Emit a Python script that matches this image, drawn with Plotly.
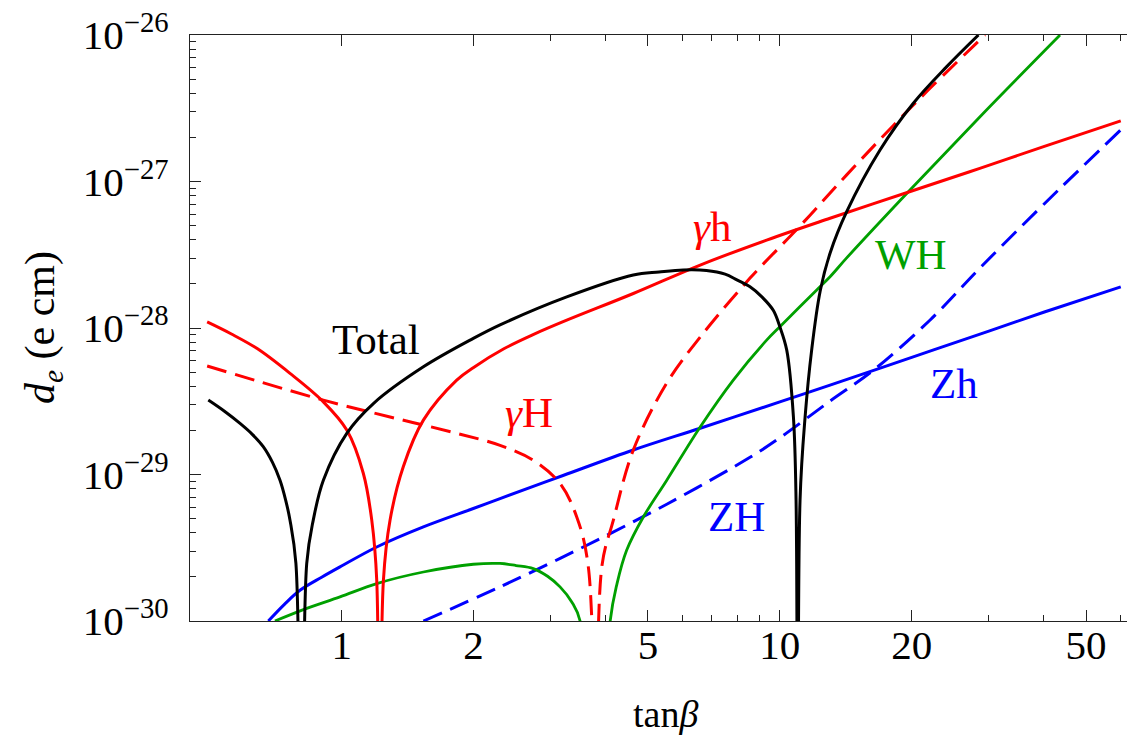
import numpy as np
import plotly.graph_objects as go

# ---- data (tan beta, |d_e| in e cm) ----
# gamma-h (solid red)
gh_x = [0.493, 0.56, 0.64, 0.762, 0.908, 1.027, 1.12, 1.171, 1.202, 1.218, 1.245, 1.289, 1.382, 1.536, 1.83, 2.0, 2.35, 2.75, 3.263, 4.63, 6.58, 9.33, 13.02, 20.0, 28.6, 40.0, 60.0]
gh_y = [1.10e-28, 9.10e-29, 7.26e-29, 4.90e-29, 3.13e-29, 2.01e-29, 1.02e-29, 4.88e-30, 1.90e-30, 1e-32, 1.90e-30, 4.88e-30, 1.13e-29, 2.35e-29, 4.41e-29, 5.38e-29, 7.24e-29, 9.08e-29, 1.13e-28, 1.72e-28, 2.69e-28, 3.98e-28, 5.61e-28, 8.61e-28, 1.23e-27, 1.73e-27, 2.59e-27]

# gamma-H (dashed red)
gH_x = [0.493, 0.908, 1.289, 1.83, 2.298, 2.737, 3.15, 3.439, 3.655, 3.82, 3.923, 4.169, 4.63, 5.52, 6.58, 8.55, 11.12, 14.21, 20.17, 29.4]
gH_y = [5.50e-29, 3.22e-29, 2.47e-29, 1.91e-29, 1.58e-29, 1.25e-29, 8.69e-30, 5.13e-30, 2.34e-30, 1e-32, 2.34e-30, 4.88e-30, 1.47e-29, 4.21e-29, 8.67e-29, 2.19e-28, 4.97e-28, 1.11e-27, 3.33e-27, 1.0e-26]

# Total (solid black)
tot_x = [0.496, 0.54, 0.586, 0.625, 0.662, 0.695, 0.723, 0.745, 0.762, 0.786, 0.81, 0.832, 0.861, 0.908, 1.027, 1.181, 1.536, 1.997, 2.298, 3.263, 4.63, 5.3, 6.02, 6.8, 7.5, 8.0, 8.55, 9.1, 9.66, 10.0, 10.37, 10.74, 10.89, 10.99, 11.12, 11.42, 11.82, 12.36, 13.02, 14.21, 16.93, 20.17, 24.04, 28.4]
tot_y = [3.22e-29, 2.70e-29, 2.23e-29, 1.88e-29, 1.55e-29, 1.21e-29, 9.14e-30, 6.67e-30, 4.88e-30, 2.47e-30, 1e-32, 2.47e-30, 4.88e-30, 9.14e-30, 1.91e-29, 3.05e-29, 5.43e-29, 8.49e-29, 1.05e-28, 1.63e-28, 2.30e-28, 2.41e-28, 2.49e-28, 2.47e-28, 2.33e-28, 2.12e-28, 1.91e-28, 1.63e-28, 1.32e-28, 1.02e-28, 7.06e-29, 2.47e-29, 6.67e-30, 1e-32, 6.67e-30, 2.47e-29, 7.06e-29, 1.78e-28, 3.24e-28, 6.22e-28, 1.64e-27, 3.42e-27, 6.08e-27, 1.0e-26]

# WH (solid green)
wh_x = [0.704, 0.832, 0.991, 1.202, 1.536, 1.997, 2.298, 2.5, 2.737, 2.95, 3.15, 3.35, 3.5, 3.8, 4.1, 4.25, 4.47, 4.88, 5.52, 6.58, 7.83, 9.33, 10.0, 11.12, 12.14, 13.02, 14.21, 19.82, 28.6, 43.6]
wh_y = [1.0e-30, 1.22e-30, 1.46e-30, 1.80e-30, 2.16e-30, 2.44e-30, 2.47e-30, 2.39e-30, 2.28e-30, 2.02e-30, 1.71e-30, 1.35e-30, 1.0e-30, 1e-32, 1.0e-30, 1.80e-30, 3.04e-30, 5.13e-30, 9.14e-30, 2.11e-29, 4.41e-29, 8.26e-29, 1.02e-28, 1.40e-28, 1.82e-28, 2.24e-28, 3.01e-28, 8.75e-28, 2.76e-27, 1.0e-26]

# Zh (solid blue)
zh_x = [0.68, 0.74, 0.803, 0.9, 0.991, 1.202, 1.536, 1.997, 2.298, 3.2, 4.63, 6.58, 10.0, 13.02, 20.0, 30.0, 40.0, 60.0]
zh_y = [1.0e-30, 1.30e-30, 1.62e-30, 1.99e-30, 2.34e-30, 3.20e-30, 4.39e-30, 5.86e-30, 6.85e-30, 9.84e-30, 1.47e-29, 2.07e-29, 3.13e-29, 4.07e-29, 6.30e-29, 9.53e-29, 1.28e-28, 1.91e-28]

# ZH (dashed blue)
zH_x = [1.536, 2.298, 3.56, 5.52, 8.55, 10.0, 13.02, 16.35, 22.0, 28.6, 40.0, 60.0]
zH_y = [1.0e-30, 1.71e-30, 3.20e-30, 6.27e-30, 1.31e-29, 1.78e-29, 3.17e-29, 5.15e-29, 1.13e-28, 2.56e-28, 6.97e-28, 2.25e-27]

x_major = [1, 2, 5, 10, 20, 50]
x_major_text = ["1", "2", "5", "10", "20", "50"]
x_minor = [3, 4, 6, 7, 8, 9, 30, 40, 60]
y_major = [1e-30, 1e-29, 1e-28, 1e-27, 1e-26]
y_major_text = ["10<sup>\u221230</sup>", "10<sup>\u221229</sup>", "10<sup>\u221228</sup>",
                "10<sup>\u221227</sup>", "10<sup>\u221226</sup>"]
y_minor = [m * 10.0 ** e for e in (-30, -29, -28, -27) for m in range(2, 10)]

# curve labels: text, tan beta, d_e, colour
labels = [
    ("<i>\u03b3</i>h", 6.99, 4.9e-28, "#ff0000"),
    ("<i>\u03b3</i>H", 2.677, 2.67e-29, "#ff0000"),
    ("Total", 1.196, 8.34e-29, "#000000"),
    ("WH", 19.9, 3.20e-28, "#00a000"),
    ("Zh", 24.98, 4.21e-29, "#0000ff"),
    ("ZH", 7.97, 5.19e-30, "#0000ff"),
]

RED, GREEN, BLUE, BLACK = "#ff0000", "#00a000", "#0000ff", "#000000"
FONT = "Liberation Serif"

fig = go.Figure()


def add(x, y, color, dash="solid", width=3.0):
    fig.add_trace(go.Scatter(x=x, y=y, mode="lines",
                             line=dict(color=color, width=width, dash=dash, shape="spline", smoothing=1.0),
                             showlegend=False, hoverinfo="skip"))


add(zh_x, zh_y, BLUE)
add(zH_x, zH_y, BLUE, dash="20px,9px")
add(wh_x, wh_y, GREEN, width=2.8)
add(gH_x, gH_y, RED, dash="20px,9px")
add(gh_x, gh_y, RED)
add(tot_x, tot_y, BLACK)

for text, lx, ly, col in labels:
    fig.add_annotation(x=np.log10(lx), y=np.log10(ly), text=text, showarrow=False,
                       font=dict(family=FONT, size=43, color=col), xanchor="center", yanchor="middle")

fig.add_annotation(xref="paper", yref="paper", x=(43 - 190) / 937, y=0.5,
                   text="<i>d</i><sub><i>e</i></sub> (e cm)", textangle=-90, showarrow=False,
                   font=dict(family=FONT, size=42, color="black"), xanchor="center", yanchor="middle")
fig.add_annotation(xref="paper", yref="paper", x=(665 - 190) / 937, y=(621 - 714) / 586,
                   text="tan<i>\u03b2</i>", showarrow=False,
                   font=dict(family=FONT, size=38, color="black"), xanchor="center", yanchor="middle")

axis_common = dict(type="log", showgrid=False, zeroline=False, ticks="inside",
                   linecolor="#222", linewidth=1.3, tickcolor="#222", tickwidth=1.2,
                   tickfont=dict(family=FONT, size=41, color="black"))

fig.update_xaxes(**axis_common, range=[np.log10(0.4505), np.log10(62)],
                 tickmode="array", tickvals=x_major, ticktext=x_major_text, ticklen=11,
                 mirror="ticks", ticklabelstandoff=-12,
                 minor=dict(tickmode="array", tickvals=x_minor, ticklen=6, ticks="inside",
                            tickcolor="#222", tickwidth=1.0, showgrid=False))
fig.update_yaxes(**axis_common, range=[-30, -26],
                 tickmode="array", tickvals=y_major, ticktext=y_major_text, ticklen=11,
                 mirror=False, ticklabelstandoff=12,
                 minor=dict(tickmode="array", tickvals=y_minor, ticklen=6, ticks="inside",
                            tickcolor="#222", tickwidth=1.0, showgrid=False))

fig.update_layout(width=1127, height=737, margin=dict(l=190, r=0, t=35, b=116),
                  plot_bgcolor="white", paper_bgcolor="white", showlegend=False)

fig.write_html("out.html")
